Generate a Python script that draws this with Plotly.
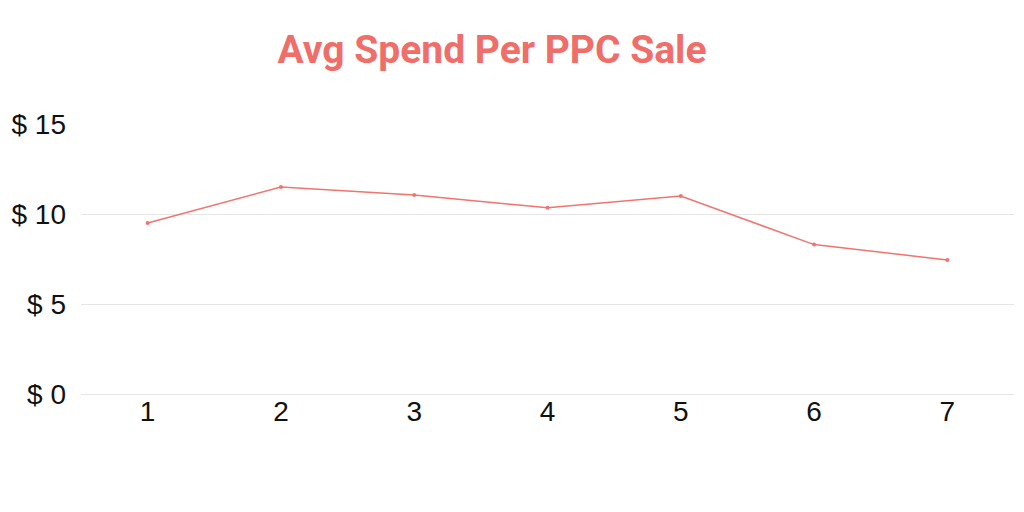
import plotly.graph_objects as go

periods = [1, 2, 3, 4, 5, 6, 7]
avg_spend = [9.5, 11.5, 11.05, 10.35, 11.0, 8.3, 7.45]
y_ticks = [0, 5, 10, 15]
y_tick_labels = ["$ 0", "$ 5", "$ 10", "$ 15"]

line_color = "#F07470"
# page body has an 8px margin; compensate in the figure margins
OFF = 8

fig = go.Figure(go.Scatter(
    x=periods, y=avg_spend, mode="lines+markers",
    line=dict(color=line_color, width=1.5),
    marker=dict(color=line_color, size=4),
    hoverinfo="x+y",
))

fig.update_layout(
    width=1024, height=512,
    paper_bgcolor="white", plot_bgcolor="white",
    margin=dict(l=81 - OFF, r=1024 - (1014 - OFF), t=124 - OFF, b=512 - (394 - OFF),
                autoexpand=False),
    showlegend=False,
    title=dict(
        text="<b>Avg Spend Per PPC Sale</b>",
        font=dict(family="Roboto, sans-serif", size=39, color="#EF6E69"),
        x=(492 - OFF) / 1024, xanchor="center", xref="container",
        y=1 - (49 - OFF) / 512, yanchor="middle", yref="container",
    ),
    xaxis=dict(
        range=[0.5, 7.5], tickvals=periods, ticktext=[str(p) for p in periods],
        showgrid=False, zeroline=False, showline=False, ticks="", automargin=False,
        ticklabelstandoff=-2,
        tickfont=dict(family="Liberation Sans, Arial, sans-serif", size=28, color="#111111"),
    ),
    yaxis=dict(
        range=[0, 15.0001], tickvals=y_ticks, ticktext=y_tick_labels,
        showgrid=True, gridcolor="#E6E6E6", gridwidth=1,
        zeroline=True, zerolinecolor="#E6E6E6", zerolinewidth=1,
        showline=False, ticks="", ticklabelstandoff=14, automargin=False,
        tickfont=dict(family="Liberation Sans, Arial, sans-serif", size=28, color="#111111"),
    ),
)

fig.write_html("out.html")
